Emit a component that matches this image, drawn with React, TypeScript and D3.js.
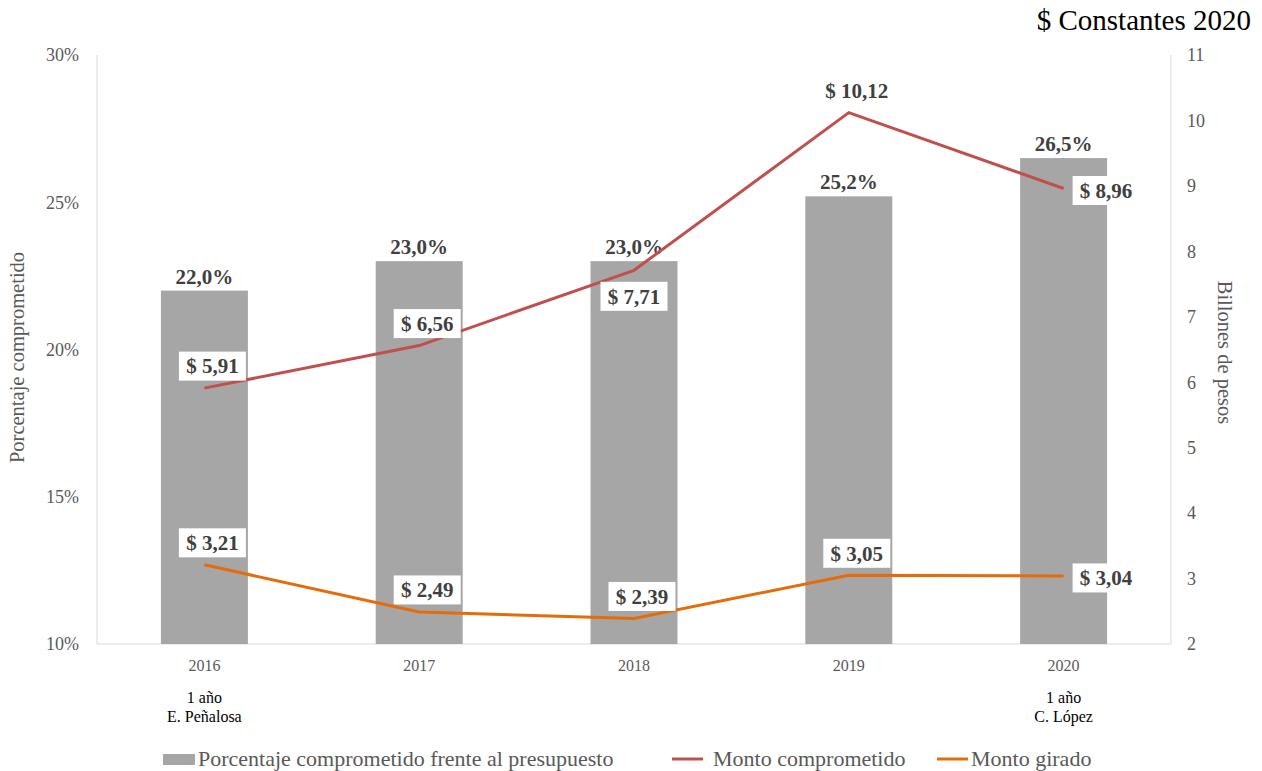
import React from 'react';
import * as d3 from 'd3';

const years = ['2016', '2017', '2018', '2019', '2020'];
const notes = [['1 año', 'E. Peñalosa'], [], [], [], ['1 año', 'C. López']];
const pctComprometido = [22.0, 23.0, 23.0, 25.2, 26.5];
const montoComprometido = [5.91, 6.56, 7.71, 10.12, 8.96];
const montoGirado = [3.21, 2.49, 2.39, 3.05, 3.04];
const leftTicks = [10, 15, 20, 25, 30];
const rightTicks = [2, 3, 4, 5, 6, 7, 8, 9, 10, 11];

// where each value label sits relative to its point
const placeComprometido = ['above', 'above', 'below', 'above', 'right'];
const placeGirado = ['above', 'above', 'above', 'above', 'right'];

const W = 1262;
const H = 771;
const FONT = '"Liberation Serif", "Times New Roman", Times, serif';
const GRAY = '#595959';
const DARK = '#404040';
const RED = '#c0504d';
const ORANGE = '#e46c0a';
const BAR = '#a6a6a6';
const AXIS = '#d9d9d9';

const fmt = (v: number, d: number) => v.toFixed(d).replace('.', ',');

function ValueLabel({ x, y, text, place }: { x: number; y: number; text: string; place: string }) {
  const w = 67;
  const h = 29;
  let cx = x + 8;
  let cy = y - 22;
  if (place === 'below') { cx = x; cy = y + 26; }
  if (place === 'right') { cx = x + 9 + w / 2; cy = y + 2; }
  return (
    <g>
      <rect x={cx - w / 2} y={cy - h / 2} width={w} height={h} fill="#fff" />
      <text x={cx} y={cy} dy="0.35em" textAnchor="middle" fontWeight="bold" fontSize={21} fill={DARK}>
        {text}
      </text>
    </g>
  );
}

export default function App() {
  const left = 97;
  const right = 1171;
  const top = 55;
  const bottom = 644;

  const x = d3.scaleBand<string>().domain(years).range([left, right]).paddingInner(0.595).paddingOuter(0.2975);
  const yL = d3.scaleLinear().domain([10, 30]).range([bottom, top]);
  const yR = d3.scaleLinear().domain([2, 11]).range([bottom, top]);
  const cx = (d: string) => (x(d) ?? 0) + x.bandwidth() / 2;

  const line = d3.line<number>().x((_, i) => cx(years[i])).y((v) => yR(v));

  return (
    <svg
      width={W}
      height={H}
      style={{ position: 'absolute', left: 0, top: 0, display: 'block', fontFamily: FONT }}
    >
      <rect width={W} height={H} fill="#fff" />

      <text x={1251} y={30} textAnchor="end" fontSize={29} fill="#000">$ Constantes 2020</text>

      {/* axes */}
      <line x1={left} x2={left} y1={top} y2={bottom} stroke={AXIS} />
      <line x1={right} x2={right} y1={top} y2={bottom} stroke={AXIS} />
      <line x1={left} x2={right} y1={bottom} y2={bottom} stroke={AXIS} />

      {leftTicks.map((t) => (
        <text key={t} x={79} y={yL(t)} dy="0.35em" textAnchor="end" fontSize={18} fill={GRAY}>{t}%</text>
      ))}
      {rightTicks.map((t) => (
        <text key={t} x={1187} y={yR(t)} dy="0.35em" textAnchor="start" fontSize={18} fill={GRAY}>{t}</text>
      ))}

      <text transform={`translate(24,${(top + bottom) / 2 + 8}) rotate(-90)`} textAnchor="middle" fontSize={20.5} fill={GRAY}>
        Porcentaje comprometido
      </text>
      <text transform={`translate(1218,${(top + bottom) / 2 + 3}) rotate(90)`} textAnchor="middle" fontSize={20.5} fill={GRAY}>
        Billones de pesos
      </text>

      {/* bars */}
      {years.map((d, i) => (
        <g key={d}>
          <rect x={x(d)} y={yL(pctComprometido[i])} width={x.bandwidth()} height={bottom - yL(pctComprometido[i])} fill={BAR} />
          <text x={cx(d)} y={yL(pctComprometido[i]) - 7} textAnchor="middle" fontWeight="bold" fontSize={21} fill={DARK}>
            {fmt(pctComprometido[i], 1)}%
          </text>
          <text x={cx(d)} y={bottom + 21} dy="0.35em" textAnchor="middle" fontSize={16} fill={GRAY}>{d}</text>
          {notes[i].map((n, j) => (
            <text key={j} x={cx(d)} y={bottom + 53 + j * 19} dy="0.35em" textAnchor="middle" fontSize={16} fill="#000">{n}</text>
          ))}
        </g>
      ))}

      {/* lines */}
      <path d={line(montoComprometido) ?? ''} fill="none" stroke={RED} strokeWidth={3} />
      <path d={line(montoGirado) ?? ''} fill="none" stroke={ORANGE} strokeWidth={3} />

      {montoComprometido.map((v, i) => (
        <ValueLabel key={'c' + i} x={cx(years[i])} y={yR(v)} text={`$ ${fmt(v, 2)}`} place={placeComprometido[i]} />
      ))}
      {montoGirado.map((v, i) => (
        <ValueLabel key={'g' + i} x={cx(years[i])} y={yR(v)} text={`$ ${fmt(v, 2)}`} place={placeGirado[i]} />
      ))}

      {/* legend */}
      <rect x={163} y={754} width={32} height={11} fill={BAR} />
      <text x={198} y={758} dy="0.35em" fontSize={22} fill={GRAY}>Porcentaje comprometido frente al presupuesto</text>
      <line x1={672} x2={703} y1={759} y2={759} stroke={RED} strokeWidth={3} />
      <text x={713} y={758} dy="0.35em" fontSize={22} fill={GRAY}>Monto comprometido</text>
      <line x1={937} x2={968} y1={759} y2={759} stroke={ORANGE} strokeWidth={3} />
      <text x={971} y={758} dy="0.35em" fontSize={22} fill={GRAY}>Monto girado</text>
    </svg>
  );
}
